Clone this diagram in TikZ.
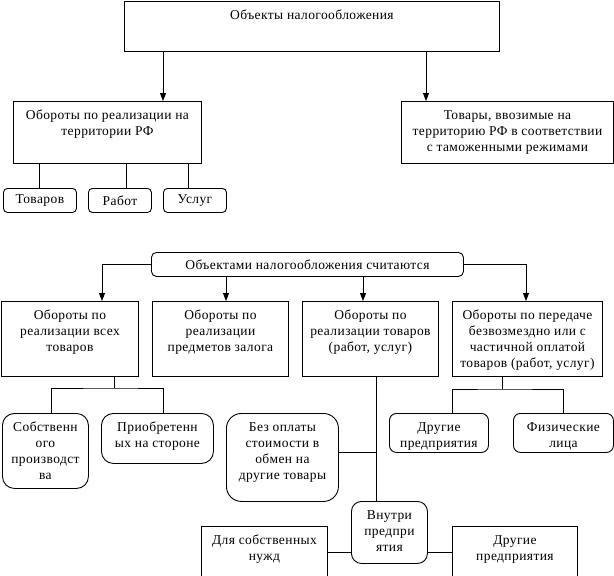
\documentclass[tikz,border=0pt]{standalone}
\usepackage{fontspec}
\setmainfont{Liberation Serif}[LetterSpace=3]
\usetikzlibrary{arrows.meta}

\newcommand{\bxt}[3]{\parbox[c][#2pt][t]{#1pt}{\centering\rule{0pt}{18pt}#3}}
\tikzset{
  box/.style={draw, line width=0.9pt, inner sep=0pt, anchor=north west},
  rbox/.style={box, rounded corners=#1},
  rbox/.default=10pt,
  ln/.style={line width=0.9pt},
  arr/.style={ln, -{Triangle[length=8pt,width=6pt]}}
}

\begin{document}
\begin{tikzpicture}[x=1pt, y=-1pt, font=\fontsize{13.5}{16}\selectfont]
  \clip (0,0) rectangle (614,576);
  \useasboundingbox (0,0) rectangle (614,576);

  % upper scheme
  \node[box] (top) at (124,1) {\bxt{375}{50}{Объекты налогообложения}};
  \node[box] (reg) at (13,101) {\bxt{188}{62}{Обороты по реализации на\\территории РФ}};
  \node[box] (imp) at (401,101) {\bxt{212}{62}{Товары, ввозимые на\\территорию РФ в соответствии\\с таможенными режимами}};
  \node[rbox=4pt, minimum width=73pt, minimum height=24pt] (tov) at (3,188) {Товаров};
  \node[rbox=4pt, minimum width=63pt, minimum height=24pt] (rab) at (88,188) {Работ};
  \node[rbox=4pt, minimum width=63pt, minimum height=24pt] (usl) at (163,188) {Услуг};

  \draw[arr] (top.south -| 163,0) -- (reg.north -| 163,0);
  \draw[arr] (top.south -| 426,0) -- (imp.north -| 426,0);
  \foreach \n/\x in {tov/39, rab/126, usl/188}
    \draw[ln] (reg.south -| \x,0) -- (\n.north -| \x,0);

  % lower scheme
  \node[rbox=5pt, minimum width=312pt, minimum height=24pt] (head) at (151,252) {Объектами налогообложения считаются};
  \node[box] (b1) at (1,301) {\bxt{137}{75}{Обороты по\\реализации всех\\товаров}};
  \node[box] (b2) at (152,301) {\bxt{136}{75}{Обороты по\\реализации\\предметов залога}};
  \node[box] (b3) at (302,301) {\bxt{136}{75}{Обороты по\\реализации товаров\\(работ, услуг)}};
  \node[box] (b4) at (452,301) {\bxt{150}{75}{Обороты по передаче\\безвозмездно или с\\частичной оплатой\\товаров (работ, услуг)}};

  \draw[arr] (head.west) -| (b1.north -| 102,0);
  \draw[arr] (head.east) -| (b4.north -| 526,0);
  \draw[arr] (head.south -| 226,0) -- (b2.north -| 226,0);
  \draw[arr] (head.south -| 363,0) -- (b3.north -| 363,0);

  \node[rbox=12pt] (own) at (2,413) {\bxt{86}{75}{Собственн\\ого\\производст\\ва}};
  \node[rbox=12pt] (bought) at (101,413) {\bxt{112}{50}{Приобретенн\\ых на стороне}};
  \node[rbox=15pt] (barter) at (226,413) {\bxt{112}{88}{Без оплаты\\стоимости в\\обмен на\\другие товары}};
  \node[rbox=10pt] (inside) at (351,501) {\bxt{76}{62}{Внутри\\предпри\\ятия}};
  \node[box] (needs) at (201,526) {\bxt{126}{62}{Для собственных\\нужд}};
  \node[box] (other) at (452,526) {\bxt{125}{62}{Другие\\предприятия}};
  \node[rbox=7pt] (ent) at (389,413) {\bxt{99}{39}{Другие\\предприятия}};
  \node[rbox=7pt] (phys) at (513,413) {\bxt{100}{39}{Физические\\лица}};

  \coordinate (j1) at (114,388);
  \coordinate (j4) at (502,389);
  \draw[ln] (b1.south -| j1) -- (j1);
  \draw[ln] (own.north -| 51,0) |- (j1) -| (bought.north -| 163,0);
  \draw[ln] (b4.south -| j4) -- (j4);
  \draw[ln] (ent.north -| 452,0) |- (j4) -| (phys.north -| 563,0);
  \draw[ln] (b3.south -| 376,0) -- (inside.north -| 376,0);
  \draw[ln] (barter.east |- 0,452) -- (376,452);
  \draw[ln] (needs.east |- 0,552) -- (inside.west |- 0,552);
  \draw[ln] (inside.east |- 0,552) -- (other.west |- 0,552);
\end{tikzpicture}
\end{document}
